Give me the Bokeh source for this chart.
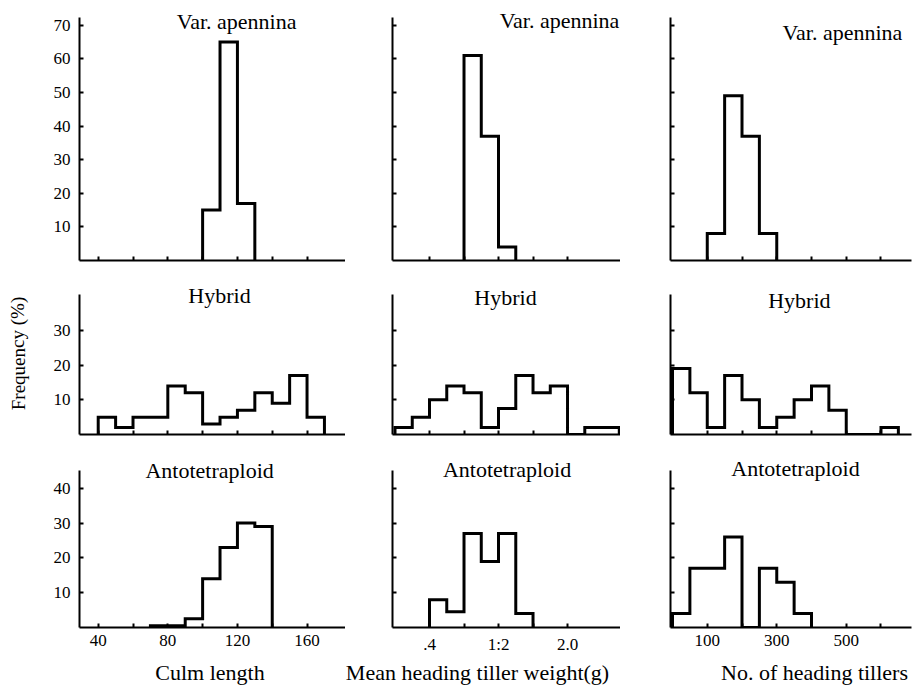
from bokeh.plotting import figure
from bokeh.layouts import column, row
from bokeh.models import Label, FixedTicker, Range1d
from bokeh.embed import file_html
from bokeh.resources import INLINE
from bokeh.core.properties import value

# ---------------- data (frequency %, histogram bin edges) ----------------
culm_apennina_edges = [100, 110, 120, 130]
culm_apennina_freq = [15, 65, 17]
culm_hybrid_edges = [40, 50, 60, 70, 80, 90, 100, 110, 120, 130, 140, 150, 160, 170]
culm_hybrid_freq = [5, 2, 5, 5, 14, 12, 3, 5, 7, 12, 9, 17, 5]
culm_auto_edges = [70, 80, 90, 100, 110, 120, 130, 140]
culm_auto_freq = [0.5, 0.5, 2.5, 14, 23, 30, 29]

weight_apennina_edges = [0.8, 1.0, 1.2, 1.4]
weight_apennina_freq = [61, 37, 4]
weight_hybrid_edges = [0.0, 0.2, 0.4, 0.6, 0.8, 1.0, 1.2, 1.4, 1.6, 1.8, 2.0, 2.2, 2.6]
weight_hybrid_freq = [2, 5, 10, 14, 12, 2, 7.5, 17, 12, 14, 0, 2]
weight_auto_edges = [0.4, 0.6, 0.8, 1.0, 1.2, 1.4, 1.6]
weight_auto_freq = [8, 4.5, 27, 19, 27, 4]

tiller_apennina_edges = [100, 150, 200, 250, 300]
tiller_apennina_freq = [8, 49, 37, 8]
tiller_hybrid_edges = [0, 50, 100, 150, 200, 250, 300, 350, 400, 450, 500, 600, 650]
tiller_hybrid_freq = [19, 12, 2, 17, 10, 2, 5, 10, 14, 7, 0, 2]
tiller_auto_edges = [0, 50, 100, 150, 200, 250, 300, 350, 400]
tiller_auto_freq = [4, 17, 17, 26, 0, 17, 13, 4]

row_names = ["Var. apennina", "Hybrid", "Antotetraploid"]
x_titles = ["Culm length", "Mean heading tiller weight(g)", "No. of heading tillers"]
y_title = "Frequency (%)"

culm_ticks = [40, 60, 80, 100, 120, 140, 160]
culm_tick_labels = ["40", "", "80", "", "120", "", "160"]
weight_ticks = [0.4, 0.8, 1.2, 1.6, 2.0]
weight_tick_labels = [".4", "", "1:2", "", "2.0"]
tiller_ticks = [100, 200, 300, 400, 500, 600]
tiller_tick_labels = ["100", "", "300", "", "500", ""]
freq_ticks = [[10, 20, 30, 40, 50, 60, 70], [10, 20, 30], [10, 20, 30, 40]]

series = [
    [(culm_apennina_edges, culm_apennina_freq), (weight_apennina_edges, weight_apennina_freq), (tiller_apennina_edges, tiller_apennina_freq)],
    [(culm_hybrid_edges, culm_hybrid_freq), (weight_hybrid_edges, weight_hybrid_freq), (tiller_hybrid_edges, tiller_hybrid_freq)],
    [(culm_auto_edges, culm_auto_freq), (weight_auto_edges, weight_auto_freq), (tiller_auto_edges, tiller_auto_freq)],
]
x_ticks = [culm_ticks, weight_ticks, tiller_ticks]
x_tick_labels = [culm_tick_labels, weight_tick_labels, tiller_tick_labels]

# ---------------- layout / style ----------------
X_RANGES = [(29.25, 182.1), (-0.029, 2.614), (-5.8, 687.8)]
Y_RANGES = [(0, 75.0), (0, 43.5), (0, 49.14)]
Y_AXIS_TOP = [72.3, 40.33, 45.1]
FRAME_W = [266, 228, 241]
FRAME_H = [252, 151, 171]
BORDER_L = [49, 47, 50]
BORDER_R = [0, 0, 2]
BORDER_T = [8, 11, 10]
BORDER_B = [12, 12, 30]

TITLE_POS = [
    [(119.5, 71.1), (1.907, 71.4), (489, 67.8)],
    [(109.7, 40.0), (1.281, 39.6), (365, 38.6)],
    [(104.0, 45.0), (1.299, 45.4), (354, 45.8)],
]
# page-pixel positions of the shared axis titles
XTITLE_PX = [209.5, 477, 814]
XTITLE_PY = 672
YTITLE_PX = (17.5, 353)

SERIF = "Liberation Serif"
TICK_SIZE = "17px"
TITLE_SIZE = "22px"
LEFT_W = 30
TOTAL_W = 913
TOP_H = 657
STRIP_H = 28


def outline(edges, freq):
    xs = [edges[0]]
    ys = [0]
    for i, f in enumerate(freq):
        xs += [edges[i], edges[i + 1]]
        ys += [f, f]
    xs.append(edges[-1])
    ys.append(0)
    return xs, ys


def bare_figure(**kw):
    p = figure(output_backend="svg", toolbar_location=None,
               x_axis_location=None, y_axis_location=None,
               min_border_left=0, min_border_right=0,
               min_border_top=0, min_border_bottom=0, **kw)
    p.outline_line_color = None
    p.xgrid.visible = False
    p.ygrid.visible = False
    p.background_fill_color = "white"
    p.border_fill_color = "white"
    return p


def make_panel(r, c):
    p = figure(frame_width=FRAME_W[c], frame_height=FRAME_H[r],
               x_range=Range1d(*X_RANGES[c]), y_range=Range1d(*Y_RANGES[r]),
               min_border_left=BORDER_L[c], min_border_right=BORDER_R[c],
               min_border_top=BORDER_T[r], min_border_bottom=BORDER_B[r],
               output_backend="svg", toolbar_location=None)
    p.outline_line_color = None
    p.xgrid.visible = False
    p.ygrid.visible = False
    p.background_fill_color = "white"
    p.border_fill_color = "white"

    for ax in (p.xaxis[0], p.yaxis[0]):
        ax.axis_line_width = 2
        ax.axis_line_color = "black"
        ax.major_tick_line_width = 2
        ax.major_tick_line_color = "black"
        ax.major_tick_in = 4
        ax.major_tick_out = 0
        ax.minor_tick_line_color = None
        ax.major_label_text_font = SERIF
        ax.major_label_text_font_size = TICK_SIZE
        ax.major_label_text_color = "black"

    xa = p.xaxis[0]
    xa.ticker = FixedTicker(ticks=x_ticks[c])
    if r == 2:
        xa.major_label_overrides = dict(zip(x_ticks[c], x_tick_labels[c]))
        xa.major_label_standoff = 7
    else:
        xa.major_label_text_color = None
        xa.major_label_standoff = 0

    ya = p.yaxis[0]
    ya.ticker = FixedTicker(ticks=freq_ticks[r])
    ya.bounds = (0, Y_AXIS_TOP[r])
    if c == 0:
        ya.major_label_standoff = 9
    else:
        ya.major_label_text_color = None
        ya.major_label_standoff = 0

    edges, freq = series[r][c]
    xs, ys = outline(edges, freq)
    p.line(xs, ys, line_width=3, line_color="black", line_join="miter")

    tx, ty = TITLE_POS[r][c]
    p.add_layout(Label(x=tx, y=ty, text=row_names[r], text_font=SERIF,
                       text_font_size=TITLE_SIZE, text_align="center",
                       text_baseline="middle", text_color="black"))
    return p


grid_rows = [row(*[make_panel(r, c) for c in range(3)]) for r in range(3)]

# bottom strip with the three x-axis titles (coordinates = page pixels)
bottom = bare_figure(frame_width=TOTAL_W - LEFT_W, frame_height=STRIP_H,
                     x_range=Range1d(LEFT_W, TOTAL_W),
                     y_range=Range1d(TOP_H + STRIP_H, TOP_H))
bottom.text(x=XTITLE_PX, y=[XTITLE_PY] * 3, text=x_titles,
            text_font=value(SERIF), text_font_size=value(TITLE_SIZE),
            text_align="center", text_baseline="middle", text_color="black")

# left strip with the shared y-axis title
left = bare_figure(frame_width=LEFT_W, frame_height=TOP_H + STRIP_H,
                   x_range=Range1d(0, LEFT_W),
                   y_range=Range1d(TOP_H + STRIP_H, 0))
left.text(x=[YTITLE_PX[0]], y=[YTITLE_PX[1]], text=[y_title], angle=1.5708,
          text_font=value(SERIF), text_font_size=value("19px"),
          text_align="center", text_baseline="middle", text_color="black")

layout = row(left, column(*grid_rows, bottom))

open("out.html", "w").write(file_html(layout, INLINE))
